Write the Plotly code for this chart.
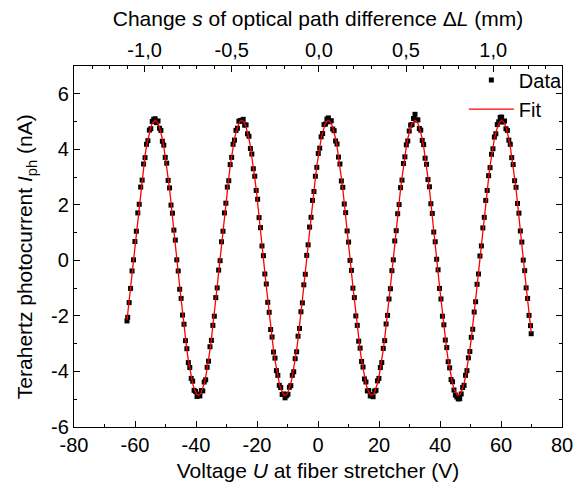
import plotly.graph_objects as go

# Voltage U at fiber stretcher (V)
voltage = [
    -62.62,
    -62.39, -61.92, -61.45, -60.97, -60.50, -60.03, -59.55, -59.08, -58.61, -58.13,
    -57.66, -57.19, -56.71, -56.24, -55.77, -55.29, -54.82, -54.35, -53.87,
    -53.40, -52.93, -52.45, -51.98, -51.51, -51.03, -50.56, -50.09, -49.61, -49.14,
    -48.67, -48.19, -47.72, -47.25, -46.77, -46.30, -45.83, -45.35, -44.88, -44.41,
    -43.93, -43.46, -42.99, -42.51, -42.04, -41.57, -41.09, -40.62, -40.15, -39.67,
    -39.20, -38.73, -38.25, -37.78, -37.31, -36.83, -36.36, -35.89, -35.41, -34.94,
    -34.47, -33.99, -33.52, -33.05, -32.57, -32.10, -31.63, -31.15, -30.68, -30.21,
    -29.73, -29.26, -28.79, -28.31, -27.84, -27.37, -26.89, -26.42, -25.95, -25.47,
    -25.00, -24.53, -24.05, -23.58, -23.11, -22.63, -22.16, -21.69, -21.21, -20.74,
    -20.27, -19.79, -19.32, -18.85, -18.37, -17.90, -17.43, -16.95, -16.48, -16.01,
    -15.53, -15.06, -14.59, -14.11, -13.64, -13.17, -12.69, -12.22, -11.75, -11.27,
    -10.80, -10.33, -9.85, -9.38, -8.91, -8.43, -7.96, -7.49, -7.01, -6.54,
    -6.07, -5.59, -5.12, -4.65, -4.17, -3.70, -3.23, -2.75, -2.28, -1.81,
    -1.33, -0.86, -0.39, 0.09, 0.56, 1.03, 1.51, 1.98, 2.45, 2.93,
    3.40, 3.87, 4.35, 4.82, 5.29, 5.77, 6.24, 6.71, 7.19, 7.66,
    8.13, 8.61, 9.08, 9.55, 10.03, 10.50, 10.97, 11.45, 11.92, 12.39,
    12.87, 13.34, 13.81, 14.29, 14.76, 15.23, 15.71, 16.18, 16.65, 17.13,
    17.60, 18.07, 18.55, 19.02, 19.49, 19.97, 20.44, 20.91, 21.39, 21.86,
    22.33, 22.81, 23.28, 23.75, 24.23, 24.70, 25.17, 25.65, 26.12, 26.59,
    27.07, 27.54, 28.01, 28.49, 28.96, 29.43, 29.91, 30.38, 30.85, 31.33,
    31.80, 32.27, 32.75, 33.22, 33.69, 34.17, 34.64, 35.11, 35.59, 36.06,
    36.53, 37.01, 37.48, 37.95, 38.43, 38.90, 39.37, 39.85, 40.32, 40.79,
    41.27, 41.74, 42.21, 42.69, 43.16, 43.63, 44.11, 44.58, 45.05, 45.53,
    46.00, 46.47, 46.95, 47.42, 47.89, 48.37, 48.84, 49.31, 49.79, 50.26,
    50.73, 51.21, 51.68, 52.15, 52.63, 53.10, 53.57, 54.05, 54.52, 54.99,
    55.47, 55.94, 56.41, 56.89, 57.36, 57.83, 58.31, 58.78, 59.25, 59.73,
    60.20, 60.67, 61.15, 61.62, 62.09, 62.57, 63.04, 63.51, 63.99, 64.46,
    64.93, 65.41, 65.88, 66.35, 66.83, 67.30, 67.77, 68.25, 68.72, 69.19,
    69.67, 69.90,
]

# Measured terahertz photocurrent I_ph (nA)
photocurrent = [
    -2.18,
    -2.05, -1.52, -1.01, -0.38, 0.02, 0.68, 1.05, 1.71, 2.02, 2.64,
    2.89, 3.47, 3.70, 4.18, 4.31, 4.69, 4.74, 5.00, 5.08,
    5.10, 4.96, 5.02, 4.76, 4.68, 4.29, 4.15, 3.71, 3.50, 2.88,
    2.61, 1.99, 1.70, 1.09, 0.73, 0.02, -0.38, -1.04, -1.37, -1.97,
    -2.30, -2.89, -3.18, -3.68, -3.86, -4.25, -4.35, -4.68, -4.72, -4.90,
    -4.82, -4.88, -4.69, -4.70, -4.38, -4.30, -3.85, -3.63, -3.11, -2.88,
    -2.34, -2.01, -1.34, -0.99, -0.35, -0.01, 0.67, 1.05, 1.71, 2.06,
    2.64, 2.87, 3.45, 3.71, 4.18, 4.33, 4.68, 4.76, 5.01, 5.04,
    5.01, 5.08, 4.87, 4.88, 4.56, 4.47, 4.03, 3.83, 3.30, 3.03,
    2.52, 2.20, 1.54, 1.18, 0.52, 0.17, -0.49, -0.85, -1.51, -1.87,
    -2.49, -2.76, -3.30, -3.52, -3.97, -4.14, -4.50, -4.58, -4.83, -4.81,
    -4.95, -4.87, -4.82, -4.57, -4.51, -4.14, -4.01, -3.54, -3.29, -2.73,
    -2.45, -1.85, -1.53, -0.88, -0.50, 0.18, 0.56, 1.20, 1.55, 2.16,
    2.48, 3.03, 3.35, 3.85, 4.04, 4.45, 4.57, 4.89, 4.91, 5.09,
    5.13, 4.99, 5.03, 4.73, 4.67, 4.30, 4.19, 3.72, 3.47, 2.86,
    2.63, 2.03, 1.72, 1.06, 0.66, 0.00, -0.36, -1.00, -1.34, -2.00,
    -2.34, -2.91, -3.16, -3.64, -3.84, -4.27, -4.38, -4.70, -4.69, -4.88,
    -4.83, -4.91, -4.71, -4.68, -4.34, -4.25, -3.86, -3.68, -3.17, -2.89,
    -2.29, -1.98, -1.39, -1.02, -0.37, 0.02, 0.70, 1.07, 1.68, 2.01,
    2.62, 2.89, 3.49, 3.73, 4.16, 4.30, 4.66, 4.87, 4.89, 5.11,
    5.26, 5.06, 5.06, 4.75, 4.69, 4.32, 4.17, 3.68, 3.46, 2.91,
    2.65, 2.04, 1.69, 1.02, 0.67, 0.04, -0.34, -1.01, -1.39, -2.01,
    -2.32, -2.87, -3.14, -3.65, -3.87, -4.29, -4.37, -4.67, -4.85, -4.92,
    -4.99, -4.98, -4.81, -4.58, -4.50, -4.14, -3.97, -3.51, -3.28, -2.77,
    -2.48, -1.86, -1.49, -0.86, -0.49, 0.16, 0.52, 1.17, 1.55, 2.16,
    2.52, 3.05, 3.34, 3.82, 4.02, 4.44, 4.56, 4.89, 4.99, 5.15,
    5.16, 4.98, 5.02, 4.74, 4.68, 4.33, 4.18, 3.70, 3.45, 2.87,
    2.63, 2.05, 1.70, 1.06, 0.66, 0.01, -0.37, -0.99, -1.37, -1.98,
    -2.35, -2.64,
]

# Fitted photocurrent (nA), same voltages
fit_current = [
    -2.15,
    -1.92, -1.44, -0.94, -0.43, 0.09, 0.61, 1.12, 1.62, 2.10, 2.57,
    2.96, 3.40, 3.77, 4.10, 4.38, 4.61, 4.80, 4.93, 5.01,
    5.04, 5.01, 4.93, 4.80, 4.61, 4.38, 4.10, 3.77, 3.40, 2.96,
    2.57, 2.10, 1.62, 1.12, 0.61, 0.09, -0.43, -0.94, -1.44, -1.92,
    -2.39, -2.82, -3.22, -3.59, -3.92, -4.20, -4.43, -4.62, -4.75, -4.83,
    -4.86, -4.83, -4.75, -4.62, -4.43, -4.20, -3.92, -3.59, -3.22, -2.82,
    -2.39, -1.92, -1.44, -0.94, -0.43, 0.09, 0.61, 1.12, 1.62, 2.10,
    2.57, 2.96, 3.40, 3.77, 4.10, 4.38, 4.61, 4.80, 4.93, 5.01,
    5.04, 5.01, 4.93, 4.80, 4.61, 4.38, 4.10, 3.77, 3.40, 2.96,
    2.57, 2.10, 1.62, 1.12, 0.61, 0.09, -0.43, -0.94, -1.44, -1.92,
    -2.39, -2.82, -3.22, -3.59, -3.92, -4.20, -4.43, -4.62, -4.75, -4.83,
    -4.86, -4.83, -4.75, -4.62, -4.43, -4.20, -3.92, -3.59, -3.22, -2.82,
    -2.39, -1.92, -1.44, -0.94, -0.43, 0.09, 0.61, 1.12, 1.62, 2.10,
    2.57, 2.96, 3.40, 3.77, 4.10, 4.38, 4.61, 4.80, 4.93, 5.01,
    5.04, 5.01, 4.93, 4.80, 4.61, 4.38, 4.10, 3.77, 3.40, 2.96,
    2.57, 2.10, 1.62, 1.12, 0.61, 0.09, -0.43, -0.94, -1.44, -1.92,
    -2.39, -2.82, -3.22, -3.59, -3.92, -4.20, -4.43, -4.62, -4.75, -4.83,
    -4.86, -4.83, -4.75, -4.62, -4.43, -4.20, -3.92, -3.59, -3.22, -2.82,
    -2.39, -1.92, -1.44, -0.94, -0.43, 0.09, 0.61, 1.12, 1.62, 2.10,
    2.57, 2.96, 3.40, 3.77, 4.10, 4.38, 4.61, 4.80, 4.93, 5.01,
    5.04, 5.01, 4.93, 4.80, 4.61, 4.38, 4.10, 3.77, 3.40, 2.96,
    2.57, 2.10, 1.62, 1.12, 0.61, 0.09, -0.43, -0.94, -1.44, -1.92,
    -2.39, -2.82, -3.22, -3.59, -3.92, -4.20, -4.43, -4.62, -4.75, -4.83,
    -4.86, -4.83, -4.75, -4.62, -4.43, -4.20, -3.92, -3.59, -3.22, -2.82,
    -2.39, -1.92, -1.44, -0.94, -0.43, 0.09, 0.61, 1.12, 1.62, 2.10,
    2.57, 2.96, 3.40, 3.77, 4.10, 4.38, 4.61, 4.80, 4.93, 5.01,
    5.04, 5.01, 4.93, 4.80, 4.61, 4.38, 4.10, 3.77, 3.40, 2.96,
    2.57, 2.10, 1.62, 1.12, 0.61, 0.09, -0.43, -0.94, -1.44, -1.92,
    -2.39, -2.60,
]

# Tick definitions
u_ticks = [-80, -60, -40, -20, 0, 20, 40, 60, 80]
u_labels = ["-80", "-60", "-40", "-20", "0", "20", "40", "60", "80"]
u_minor = [-70, -50, -30, -10, 10, 30, 50, 70]
i_ticks = [-6, -4, -2, 0, 2, 4, 6]
i_labels = ["-6", "-4", "-2", "0", "2", "4", "6"]
i_minor = [-5, -3, -1, 1, 3, 5]
s_ticks = [-1.0, -0.5, 0.0, 0.5, 1.0]
s_labels = ["-1,0", "-0,5", "0,0", "0,5", "1,0"]
s_minor = [-1.4, -1.3, -1.2, -1.1, -0.9, -0.8, -0.7, -0.6, -0.4, -0.3, -0.2, -0.1,
           0.1, 0.2, 0.3, 0.4, 0.6, 0.7, 0.8, 0.9, 1.1, 1.2, 1.3]

FONT = "Liberation Sans, Arial, sans-serif"
FS_TICK = 20
FS_TITLE = 21

fig = go.Figure()
fig.add_trace(go.Scatter(
    x=voltage, y=photocurrent, mode="markers", name="Data",
    marker=dict(symbol="square", size=5, color="black", line=dict(width=0)),
))
fig.add_trace(go.Scatter(
    x=voltage, y=fit_current, mode="lines", name="Fit",
    line=dict(color="#ff0000", width=1.3),
))
# carrier trace so the top (optical path) axis is drawn; it has no visible marks
fig.add_trace(go.Scatter(
    x=s_ticks, y=[None] * len(s_ticks), xaxis="x2", yaxis="y",
    mode="markers", showlegend=False, hoverinfo="skip",
))

axis_common = dict(
    showline=True, linecolor="black", linewidth=1.3,
    ticks="inside", ticklen=6, tickwidth=1.2, tickcolor="black",
    showgrid=False, zeroline=False,
    tickfont=dict(family=FONT, size=FS_TICK, color="black"),
)

fig.update_layout(
    width=586, height=491,
    margin=dict(l=74, r=24, t=66, b=64),
    paper_bgcolor="white", plot_bgcolor="white",
    font=dict(family=FONT, size=FS_TICK, color="black"),
    showlegend=True,
    legend=dict(
        x=1.012, xanchor="right", y=1.015, yanchor="top",
        bgcolor="rgba(0,0,0,0)", borderwidth=0,
        font=dict(family=FONT, size=FS_TICK, color="black"),
        itemwidth=45, tracegroupgap=0,
    ),
    xaxis=dict(
        **axis_common,
        range=[-80, 80], tickmode="array", tickvals=u_ticks, ticktext=u_labels,
        minor=dict(tickmode="array", tickvals=u_minor, ticks="inside", ticklen=3,
                   tickwidth=1.2, tickcolor="black"),
        mirror=False,
        title=dict(text="Voltage <i>U</i> at fiber stretcher (V)", standoff=8,
                   font=dict(family=FONT, size=FS_TITLE, color="black")),
    ),
    xaxis2=dict(
        **axis_common,
        overlaying="x", side="top", anchor="y",
        range=[-1.405, 1.395], tickmode="array", tickvals=s_ticks, ticktext=s_labels,
        minor=dict(tickmode="array", tickvals=s_minor, ticks="inside", ticklen=3,
                   tickwidth=1.2, tickcolor="black"),
        title=dict(text="Change <i>s</i> of optical path difference \u0394<i>L</i> (mm)",
                   standoff=6, font=dict(family=FONT, size=FS_TITLE, color="black")),
    ),
    yaxis=dict(
        **axis_common,
        range=[-6, 7], tickmode="array", tickvals=i_ticks, ticktext=i_labels,
        minor=dict(tickmode="array", tickvals=i_minor, ticks="inside", ticklen=3,
                   tickwidth=1.2, tickcolor="black"),
        mirror="ticks",
    ),
    annotations=[dict(
        text="Terahertz photocurrent <i>I</i><sub>ph</sub> (nA)",
        textangle=-90, xref="paper", yref="paper",
        x=-0.098, y=0.471, xanchor="center", yanchor="middle",
        showarrow=False, font=dict(family=FONT, size=FS_TITLE, color="black"),
    )],
)

fig.write_html("out.html")
